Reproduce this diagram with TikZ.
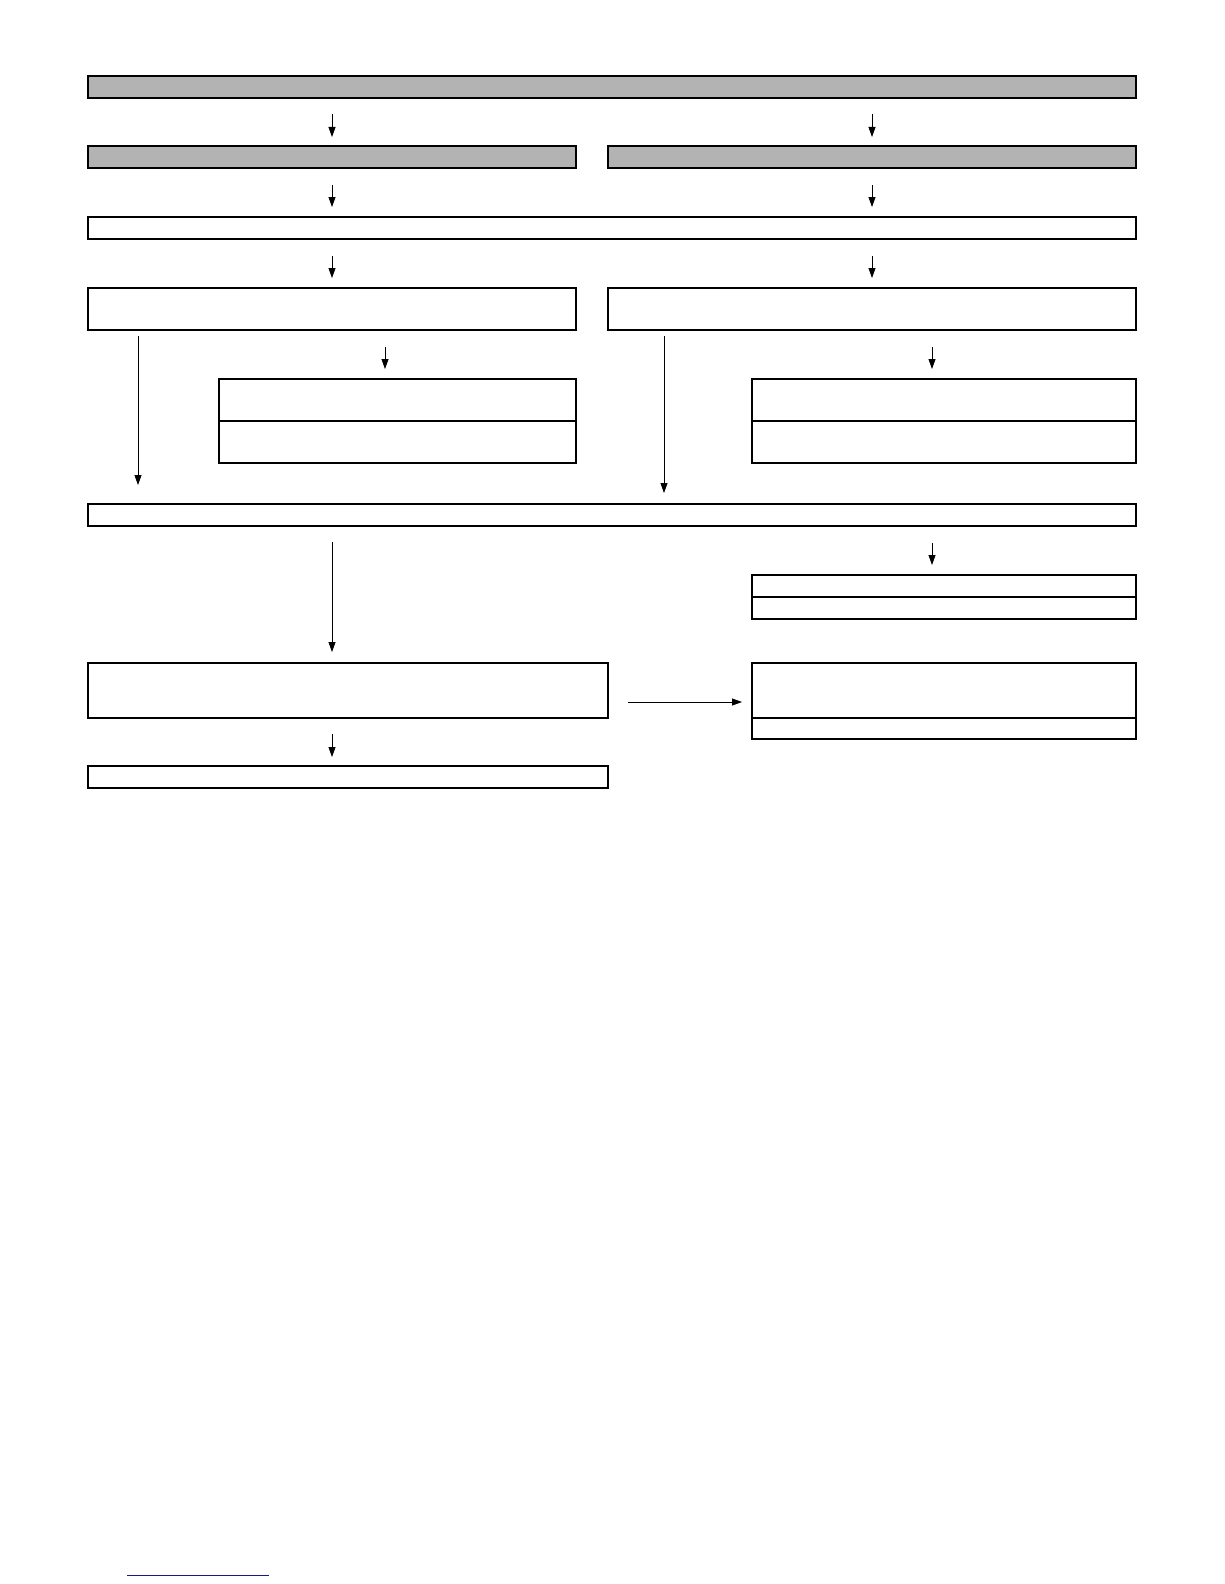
\documentclass[tikz,border=0pt]{standalone}
\usetikzlibrary{arrows.meta}
\definecolor{boxgray}{RGB}{179,179,179}
\definecolor{linkblue}{RGB}{24,24,140}
\begin{document}
\begin{tikzpicture}[x=1pt,y=-1pt,
  box/.style={draw=black,line width=1.2pt,inner sep=0pt,outer sep=0pt,anchor=north west},
  graybox/.style={box,fill=boxgray},
  arr/.style={line width=0.8pt,-{Triangle[width=7pt,length=10pt]}}]
\useasboundingbox (0,0) rectangle (1224,1584);
% boxes
\node[graybox,minimum width=1048pt,minimum height=22pt] (b1) at (88,76) {};
\node[graybox,minimum width=488pt,minimum height=22pt] (b2l) at (88,146) {};
\node[graybox,minimum width=528pt,minimum height=22pt] (b2r) at (608,146) {};
\node[box,minimum width=1048pt,minimum height=22pt] (b3) at (88,217) {};
\node[box,minimum width=488pt,minimum height=42pt] (b4l) at (88,288) {};
\node[box,minimum width=528pt,minimum height=42pt] (b4r) at (608,288) {};
\node[box,minimum width=357pt,minimum height=42pt] (b5la) at (219,379) {};
\node[box,minimum width=357pt,minimum height=42pt] (b5lb) at (219,421) {};
\node[box,minimum width=384pt,minimum height=42pt] (b5ra) at (752,379) {};
\node[box,minimum width=384pt,minimum height=42pt] (b5rb) at (752,421) {};
\node[box,minimum width=1048pt,minimum height=22pt] (b6) at (88,504) {};
\node[box,minimum width=384pt,minimum height=22pt] (b7a) at (752,575) {};
\node[box,minimum width=384pt,minimum height=22pt] (b7b) at (752,597) {};
\node[box,minimum width=520pt,minimum height=55pt] (b8) at (88,663) {};
\node[box,minimum width=384pt,minimum height=55pt] (b9a) at (752,663) {};
\node[box,minimum width=384pt,minimum height=21pt] (b9b) at (752,718) {};
\node[box,minimum width=520pt,minimum height=22pt] (b10) at (88,766) {};
% helper coordinates
\coordinate (xc) at (332,0);
\coordinate (xs1) at (385,0);
\coordinate (xs2) at (932,0);
\coordinate (xl1) at (138,0);
\coordinate (xl2) at (664,0);
\coordinate (yh) at (0,702);
% connectors
\draw[arr,shorten <=16pt,shorten >=9pt] (b1.south -| b2l.north) -- (b2l.north);
\draw[arr,shorten <=16pt,shorten >=9pt] (b1.south -| b2r.north) -- (b2r.north);
\draw[arr,shorten <=17pt,shorten >=10pt] (b2l.south) -- (b3.north -| b2l.south);
\draw[arr,shorten <=17pt,shorten >=10pt] (b2r.south) -- (b3.north -| b2r.south);
\draw[arr,shorten <=17pt,shorten >=10pt] (b3.south -| b4l.north) -- (b4l.north);
\draw[arr,shorten <=17pt,shorten >=10pt] (b3.south -| b4r.north) -- (b4r.north);
\draw[arr,shorten <=17pt,shorten >=10pt] (b4l.south -| xs1) -- (b5la.north -| xs1);
\draw[arr,shorten <=17pt,shorten >=10pt] (b4r.south -| xs2) -- (b5ra.north -| xs2);
\draw[arr,shorten <=6pt,shorten >=19pt] (b4l.south -| xl1) -- (b6.north -| xl1);
\draw[arr,shorten <=6pt,shorten >=11pt] (b4r.south -| xl2) -- (b6.north -| xl2);
\draw[arr,shorten <=16pt,shorten >=11pt] (b6.south -| xc) -- (b8.north -| xc);
\draw[arr,shorten <=17pt,shorten >=10pt] (b6.south -| xs2) -- (b7a.north -| xs2);
\draw[arr,shorten <=16pt,shorten >=9pt] (b8.south -| xc) -- (b10.north -| xc);
\draw[arr,shorten <=20pt,shorten >=10pt] (b8.east |- yh) -- (b9a.west |- yh);
% bottom rule
\draw[linkblue,line width=1pt] (127,1575) -- (269,1575);
\end{tikzpicture}
\end{document}
